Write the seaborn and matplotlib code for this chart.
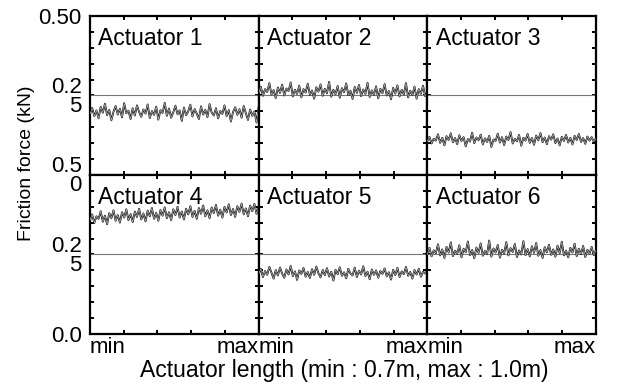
import numpy as np
import pandas as pd
import seaborn as sns
import matplotlib.pyplot as plt
from matplotlib.ticker import MultipleLocator

# friction force readings (kN) per actuator, sampled from min to max length
act1 = [0.192, 0.211, 0.185, 0.203, 0.178, 0.214, 0.196, 0.224, 0.188, 0.205, 0.172, 0.199, 0.217, 0.190, 0.208, 0.181, 0.226, 0.194, 0.202, 0.176,
        0.210, 0.187, 0.219, 0.198, 0.183, 0.206, 0.193, 0.222, 0.179, 0.201, 0.189, 0.215, 0.174, 0.204, 0.195, 0.227, 0.186, 0.209, 0.180, 0.197,
        0.218, 0.191, 0.203, 0.170, 0.212, 0.188, 0.200, 0.221, 0.184, 0.207, 0.193, 0.176, 0.216, 0.190, 0.205, 0.182, 0.223, 0.196, 0.187, 0.210,
        0.178, 0.201, 0.192, 0.219, 0.185, 0.204, 0.168, 0.198, 0.213, 0.189, 0.207, 0.180, 0.217, 0.194, 0.173, 0.206, 0.186, 0.200, 0.165, 0.214]
act2 = [0.256, 0.278, 0.249, 0.270, 0.261, 0.289, 0.253, 0.267, 0.242, 0.275, 0.258, 0.284, 0.250, 0.272, 0.264, 0.291, 0.247, 0.268, 0.255, 0.281,
        0.244, 0.270, 0.259, 0.287, 0.252, 0.266, 0.240, 0.276, 0.262, 0.285, 0.249, 0.271, 0.257, 0.293, 0.246, 0.268, 0.254, 0.280, 0.243, 0.273,
        0.260, 0.288, 0.251, 0.265, 0.239, 0.277, 0.258, 0.283, 0.248, 0.269, 0.255, 0.290, 0.245, 0.266, 0.252, 0.279, 0.241, 0.271, 0.257, 0.286,
        0.250, 0.264, 0.238, 0.274, 0.256, 0.282, 0.247, 0.268, 0.253, 0.289, 0.244, 0.265, 0.251, 0.278, 0.240, 0.270, 0.255, 0.281, 0.248, 0.262]
act3 = [0.106, 0.120, 0.099, 0.114, 0.108, 0.128, 0.101, 0.117, 0.093, 0.122, 0.110, 0.131, 0.103, 0.116, 0.097, 0.125, 0.107, 0.119, 0.090, 0.113,
        0.105, 0.133, 0.100, 0.118, 0.109, 0.127, 0.096, 0.115, 0.104, 0.123, 0.088, 0.112, 0.107, 0.130, 0.102, 0.119, 0.094, 0.121, 0.110, 0.135,
        0.099, 0.114, 0.106, 0.126, 0.092, 0.117, 0.108, 0.129, 0.101, 0.116, 0.095, 0.124, 0.109, 0.132, 0.103, 0.118, 0.097, 0.122, 0.111, 0.128,
        0.100, 0.115, 0.093, 0.120, 0.107, 0.126, 0.102, 0.117, 0.096, 0.123, 0.110, 0.129, 0.104, 0.116, 0.098, 0.121, 0.108, 0.119, 0.105, 0.114]
act4 = [0.358, 0.376, 0.349, 0.370, 0.362, 0.386, 0.353, 0.372, 0.345, 0.380, 0.364, 0.389, 0.356, 0.374, 0.350, 0.383, 0.366, 0.392, 0.358, 0.377,
        0.352, 0.385, 0.368, 0.394, 0.360, 0.379, 0.354, 0.388, 0.370, 0.396, 0.362, 0.381, 0.356, 0.390, 0.372, 0.398, 0.364, 0.383, 0.358, 0.392,
        0.374, 0.400, 0.366, 0.385, 0.360, 0.394, 0.376, 0.402, 0.368, 0.387, 0.362, 0.396, 0.378, 0.404, 0.370, 0.389, 0.364, 0.398, 0.380, 0.406,
        0.372, 0.391, 0.366, 0.400, 0.382, 0.408, 0.374, 0.393, 0.368, 0.402, 0.384, 0.410, 0.376, 0.395, 0.370, 0.404, 0.386, 0.409, 0.378, 0.397]
act5 = [0.188, 0.205, 0.179, 0.198, 0.186, 0.211, 0.193, 0.174, 0.201, 0.184, 0.209, 0.190, 0.177, 0.203, 0.187, 0.214, 0.182, 0.197, 0.170, 0.200,
        0.189, 0.208, 0.180, 0.195, 0.176, 0.204, 0.186, 0.212, 0.191, 0.178, 0.201, 0.185, 0.207, 0.181, 0.196, 0.168, 0.202, 0.188, 0.210, 0.183,
        0.194, 0.175, 0.205, 0.190, 0.184, 0.209, 0.179, 0.199, 0.187, 0.213, 0.182, 0.196, 0.172, 0.203, 0.186, 0.200, 0.177, 0.198, 0.189, 0.206,
        0.181, 0.194, 0.171, 0.202, 0.185, 0.208, 0.179, 0.197, 0.188, 0.211, 0.183, 0.195, 0.174, 0.201, 0.187, 0.205, 0.180, 0.196, 0.190, 0.199]
act6 = [0.250, 0.271, 0.244, 0.263, 0.254, 0.282, 0.247, 0.266, 0.239, 0.274, 0.256, 0.288, 0.245, 0.262, 0.252, 0.279, 0.241, 0.268, 0.257, 0.291,
        0.248, 0.264, 0.238, 0.272, 0.255, 0.285, 0.246, 0.261, 0.251, 0.294, 0.243, 0.269, 0.256, 0.280, 0.240, 0.265, 0.253, 0.289, 0.247, 0.270,
        0.258, 0.283, 0.242, 0.263, 0.250, 0.292, 0.248, 0.267, 0.244, 0.276, 0.255, 0.286, 0.246, 0.264, 0.239, 0.273, 0.257, 0.281, 0.249, 0.266,
        0.243, 0.278, 0.254, 0.290, 0.247, 0.262, 0.241, 0.271, 0.256, 0.284, 0.245, 0.268, 0.251, 0.277, 0.242, 0.265, 0.253, 0.274, 0.248, 0.263]

series = [act1, act2, act3, act4, act5, act6]
names = ["Actuator 1", "Actuator 2", "Actuator 3", "Actuator 4", "Actuator 5", "Actuator 6"]
ref_level = 0.25
top_row_ylabels = ["", "0.2\n5", "0.50"]
bottom_row_ylabels = ["0.0", "0.2\n5", "0.5\n0"]

sns.set_style("ticks")
plt.rcParams["font.family"] = ["Liberation Sans", "DejaVu Sans"]
plt.rcParams["text.color"] = "black"
plt.rcParams["axes.labelcolor"] = "black"
plt.rcParams["xtick.color"] = "black"
plt.rcParams["ytick.color"] = "black"

fig, axes = plt.subplots(2, 3, figsize=(6.26, 3.87), dpi=100, sharex=True,
                         gridspec_kw={"wspace": 0, "hspace": 0})
fig.subplots_adjust(left=0.1438, right=0.952, top=0.9587, bottom=0.137)

n = len(act1)
for i, ax in enumerate(axes.flat):
    df = pd.DataFrame({"sample": np.arange(n), "force": series[i]})
    ax.axhline(ref_level, color="#777777", lw=0.8, zorder=1)
    sns.lineplot(data=df, x="sample", y="force", ax=ax, color="black", lw=1.3, zorder=2)
    sns.lineplot(data=df, x="sample", y="force", ax=ax, color="#a8a8a8", lw=0.6, zorder=3)
    ax.text(0.05, 0.93, names[i], transform=ax.transAxes, fontsize=16.5, va="top", ha="left")
    ax.set_xlim(0, n - 1)
    ax.set_ylim(0, 0.5)
    ax.set_xlabel("")
    ax.set_ylabel("")
    for sp in ax.spines.values():
        sp.set_visible(True)
        sp.set_linewidth(1.6)
        sp.set_color("black")
    ax.xaxis.set_minor_locator(MultipleLocator((n - 1) / 5))
    ax.yaxis.set_minor_locator(MultipleLocator(0.05))
    ax.tick_params(which="both", direction="in", top=True, right=True, length=3, width=1.4,
                   labelsize=16, pad=6)
    ax.set_xticks([0, n - 1])
    ax.set_yticks([0, 0.25, 0.5])
    if i % 3 != 0:
        ax.tick_params(axis="y", labelleft=False)

for ax in axes[1]:
    ax.set_xticklabels(["min", "max"])
    labs = ax.get_xticklabels()
    labs[0].set_ha("left")
    labs[1].set_ha("right")
    ax.tick_params(axis="x", pad=2)

for ax, labs in zip(axes[:, 0], [top_row_ylabels, bottom_row_ylabels]):
    ax.set_yticklabels(labs, linespacing=0.85)

fig.supylabel("Friction force (kN)", x=0.029, y=0.579, fontsize=14)
fig.supxlabel("Actuator length (min : 0.7m, max : 1.0m)", x=0.55, y=0.012, fontsize=16.5)

fig.savefig("out.png", dpi=100)
